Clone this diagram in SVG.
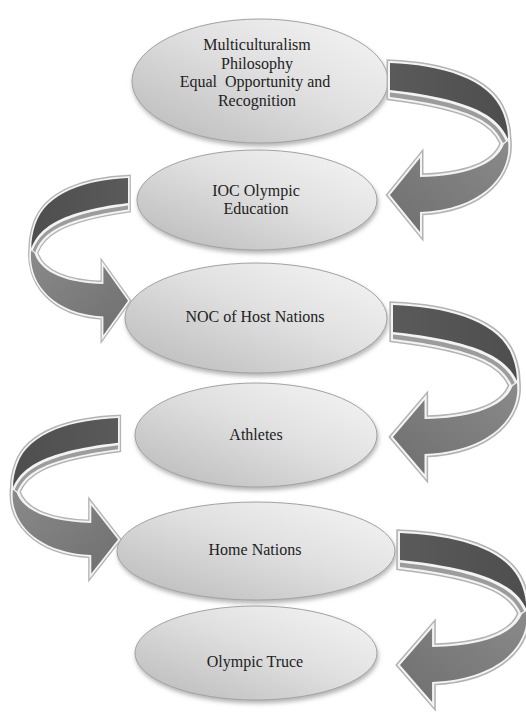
<svg xmlns="http://www.w3.org/2000/svg" xmlns:xlink="http://www.w3.org/1999/xlink" width="526" height="713" viewBox="0 0 526 713">
<style>
.lbl{font-family:"Liberation Serif","Times New Roman",serif;font-size:16px;fill:#222;text-anchor:middle}
.node{fill:url(#eg);stroke:#a2a2a2;stroke-width:1;filter:url(#sh)}
.o1{fill:none;stroke:#b3b3b3;stroke-width:7;stroke-linejoin:miter;vector-effect:non-scaling-stroke}
.o2{fill:#f3f3f3;stroke:#f3f3f3;stroke-width:4;stroke-linejoin:miter;vector-effect:non-scaling-stroke}
.dark{fill:url(#dg)}
.strip{fill:#9c9c9c}
.low{fill:url(#lg)}
</style>
<defs>
<linearGradient id="eg" x1="1" y1="0" x2="0" y2="1">
<stop offset="0" stop-color="#f6f6f6"/>
<stop offset="0.45" stop-color="#e0e0e0"/>
<stop offset="1" stop-color="#b8b8b8"/>
</linearGradient>
<linearGradient id="dg" x1="0" y1="0" x2="1" y2="0">
<stop offset="0" stop-color="#5a5a5a"/>
<stop offset="1" stop-color="#4e4e4e"/>
</linearGradient>
<linearGradient id="lg" x1="1" y1="0" x2="0" y2="1">
<stop offset="0" stop-color="#8a8a8a"/>
<stop offset="1" stop-color="#6f6f6f"/>
</linearGradient>
<filter id="sh" x="-10%" y="-10%" width="120%" height="130%">
<feDropShadow dx="1" dy="3" stdDeviation="2" flood-color="#777" flood-opacity="0.55"/>
</filter>
<path id="aout" d="M0,0 C50,2 100,15 113,50 C116,58 118,66 118,76 C122,110 95,146 30,149 L30,169 L0,132 L30,95 L30,114 C75,113 106,102 113,80 C105,62 88,45 0,34 Z"/>
<g id="arrow">
<use xlink:href="#aout" class="o1"/>
<use xlink:href="#aout" class="o2"/>
<path class="dark" d="M0,0 C50,2 100,15 113,50 C116,58 118,66 118,76 C110,58 92,37 0,27 Z"/>
<path class="strip" d="M0,29.5 C90,40 108,60 116,78 L113,80 C105,62 88,45 0,34 Z"/>
<path class="low" d="M118,78 C122,110 95,146 30,149 L30,169 L0,132 L30,95 L30,114 C75,113 106,102 114,81 Z"/>
</g>
</defs>
<rect width="526" height="713" fill="#ffffff"/>
<g id="n1">
<ellipse class="node" cx="260" cy="81" rx="128" ry="62"/>
<text class="lbl" x="257" y="50">Multiculturalism</text>
<text class="lbl" x="257" y="68.5">Philosophy</text>
<text class="lbl" x="255" y="87" xml:space="preserve">Equal  Opportunity and</text>
<text class="lbl" x="257" y="105.5">Recognition</text>
</g>
<g id="n2">
<ellipse class="node" cx="257" cy="200" rx="120" ry="50"/>
<text class="lbl" x="256" y="196">IOC Olympic</text>
<text class="lbl" x="256" y="214">Education</text>
</g>
<g id="n3">
<ellipse class="node" cx="256" cy="318" rx="131" ry="55"/>
<text class="lbl" x="255" y="322">NOC of Host Nations</text>
</g>
<g id="n4">
<ellipse class="node" cx="256" cy="435" rx="121" ry="52"/>
<text class="lbl" x="256" y="440">Athletes</text>
</g>
<g id="n5">
<ellipse class="node" cx="256" cy="551" rx="139" ry="49"/>
<text class="lbl" x="255" y="555">Home Nations</text>
</g>
<g id="n6">
<ellipse class="node" cx="256" cy="653" rx="121" ry="47"/>
<text class="lbl" x="255" y="667">Olympic Truce</text>
</g>
<g id="connectors">
<use xlink:href="#arrow" transform="translate(390,63)"/>
<use xlink:href="#arrow" transform="translate(128,178) scale(-0.82,0.93)"/>
<use xlink:href="#arrow" transform="translate(393,305) scale(1.05,1)"/>
<use xlink:href="#arrow" transform="translate(118,418) scale(-0.89,0.92)"/>
<use xlink:href="#arrow" transform="translate(400,533) scale(1.07,1)"/>
</g>
</svg>
